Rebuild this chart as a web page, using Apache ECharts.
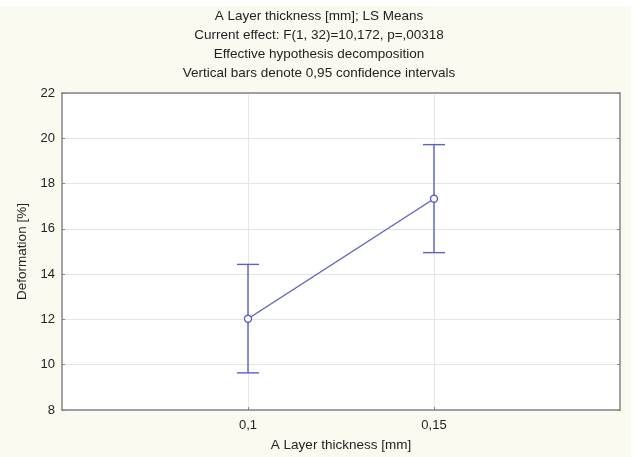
<!DOCTYPE html>
<html>
<head>
<meta charset="utf-8">
<script src="https://cdn.jsdelivr.net/npm/echarts@6/dist/echarts.min.js"></script>
<style>
  html, body { margin: 0; padding: 0; background: #ffffff; }
  #chart { width: 638px; height: 457px; }
</style>
</head>
<body>
<div id="chart"></div>
<script>
// Layer thickness levels (blank slots pad the axis on both sides)
const categories = ['', '0,1', '0,15', ''];
// LS means of deformation [%] per level
const means = [12.03, 17.33];
// 0,95 confidence limits
const lowerCI = [9.64, 14.95];
const upperCI = [14.43, 19.72];
const yTicks = { min: 8, max: 22, step: 2 };

const titleLines = [
  'A Layer thickness [mm]; LS Means',
  'Current effect: F(1, 32)=10,172, p=,00318',
  'Effective hypothesis decomposition',
  'Vertical bars denote 0,95 confidence intervals'
];

const markColor = '#5a62c3';
const frameColor = '#858585';
const font = 'Liberation Sans, Arial, sans-serif';

const lineData = means.map((m, i) => [categories[i + 1], m]);
const errData = means.map((m, i) => [categories[i + 1], lowerCI[i], upperCI[i]]);

const chart = echarts.init(document.getElementById('chart'), null, { renderer: 'canvas' });

chart.setOption({
  backgroundColor: '#ffffff',
  animation: false,
  graphic: [
    {
      type: 'rect',
      z: -10,
      silent: true,
      shape: { x: 0, y: 6, width: 631, height: 451 },
      style: { fill: '#fbfaf1' }
    }
  ],
  title: {
    text: titleLines.join('\n'),
    left: 'center',
    top: 2,
    textStyle: { fontFamily: font, fontSize: 13.5, fontWeight: 'normal', color: '#222', lineHeight: 19 }
  },
  grid: {
    left: 62, right: 18, top: 93, bottom: 46,
    show: true, backgroundColor: '#ffffff', borderWidth: 0
  },
  xAxis: [
    {
      type: 'category',
      data: categories,
      boundaryGap: false,
      z: 5,
      name: 'A Layer thickness [mm]',
      nameLocation: 'middle',
      nameGap: 28,
      nameTextStyle: { fontFamily: font, fontSize: 13.5, color: '#222' },
      axisLine: { lineStyle: { color: frameColor, width: 1.5 } },
      axisTick: { show: true, inside: true, length: 3, interval: (i) => i === 1 || i === 2, lineStyle: { color: frameColor } },
      axisLabel: { fontFamily: font, fontSize: 13, color: '#222', margin: 9, interval: 0 },
      splitLine: { show: true, interval: (i) => i === 1 || i === 2, lineStyle: { color: '#e6e6e6', width: 1 } }
    },
    {
      type: 'category',
      data: categories,
      boundaryGap: false,
      position: 'top',
      z: 5,
      axisLine: { lineStyle: { color: frameColor, width: 1.5 } },
      axisTick: { show: false },
      axisLabel: { show: false },
      splitLine: { show: false }
    }
  ],
  yAxis: [
    {
      type: 'value',
      min: yTicks.min, max: yTicks.max, interval: yTicks.step,
      z: 4,
      name: 'Deformation [%]',
      nameLocation: 'middle',
      nameGap: 26,
      nameTextStyle: { fontFamily: font, fontSize: 13.5, color: '#222' },
      axisLine: { show: true, lineStyle: { color: frameColor, width: 1.5 } },
      axisTick: { show: true, inside: true, length: 3, lineStyle: { color: frameColor } },
      axisLabel: { fontFamily: font, fontSize: 13, color: '#222', margin: 7 },
      splitLine: { show: true, lineStyle: { color: '#e6e6e6', width: 1 } }
    },
    {
      type: 'value',
      min: yTicks.min, max: yTicks.max, interval: yTicks.step,
      position: 'right',
      z: 4,
      axisLine: { show: true, lineStyle: { color: frameColor, width: 1.5 } },
      axisTick: { show: true, inside: true, length: 3, lineStyle: { color: frameColor } },
      axisLabel: { show: false },
      splitLine: { show: false }
    }
  ],
  series: [
    {
      type: 'custom',
      xAxisIndex: 0, yAxisIndex: 0,
      z: 10,
      data: errData,
      renderItem: function (params, api) {
        const lo = api.coord([api.value(0), api.value(1)]);
        const hi = api.coord([api.value(0), api.value(2)]);
        const half = 11;
        const style = { stroke: markColor, lineWidth: 1.4, fill: null };
        return {
          type: 'group',
          children: [
            { type: 'line', shape: { x1: lo[0], y1: lo[1], x2: hi[0], y2: hi[1] }, style },
            { type: 'line', shape: { x1: hi[0] - half, y1: hi[1], x2: hi[0] + half, y2: hi[1] }, style },
            { type: 'line', shape: { x1: lo[0] - half, y1: lo[1], x2: lo[0] + half, y2: lo[1] }, style }
          ]
        };
      }
    },
    {
      type: 'line',
      xAxisIndex: 0, yAxisIndex: 0,
      z: 11,
      data: lineData,
      symbol: 'circle',
      symbolSize: 7,
      showAllSymbol: true,
      lineStyle: { color: markColor, width: 1.4 },
      itemStyle: { color: '#ffffff', borderColor: markColor, borderWidth: 1.4 }
    }
  ]
});
</script>
</body>
</html>
